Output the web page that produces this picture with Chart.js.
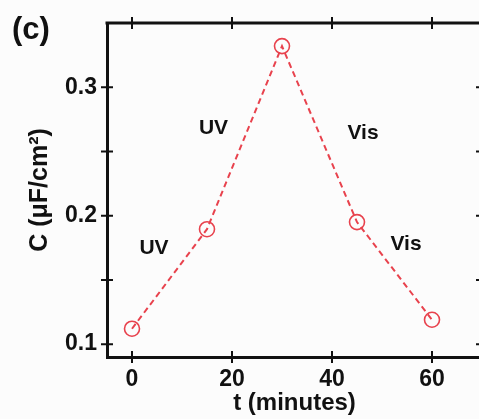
<!DOCTYPE html>
<html>
<head>
<meta charset="utf-8">
<script src="https://cdn.jsdelivr.net/npm/chart.js@4/dist/chart.umd.min.js"></script>
<style>
  html, body { margin: 0; padding: 0; background: #fcfcfc; overflow: hidden; }
  #wrap { width: 479px; height: 419px; overflow: hidden; }
</style>
</head>
<body>
<div id="wrap"><canvas id="capChart" width="490" height="419"></canvas></div>
<script>
// capacitance vs. illumination time
const times = [0, 15, 30, 45, 60];
const capacitance = [0.112, 0.1895, 0.332, 0.195, 0.119];

const xTicks = [0, 20, 40, 60];
const yTicks = [0.1, 0.15, 0.2, 0.25, 0.3];
const yLabelled = [0.1, 0.2, 0.3];

// light-condition notes, placed in data units
const noteText = ['UV', 'UV', 'Vis', 'Vis'];
const noteT = [4.4, 16.3, 46.2, 54.8];
const noteC = [0.1746, 0.268, 0.264, 0.178];

const ink = '#111';
const red = '#e8424d';
const boldFont = size => ({ family: 'Arial, "Liberation Sans", sans-serif', size: size, weight: 'bold' });

// closes the box, draws in/out ticks on all four sides and the text notes
const framePlugin = {
    id: 'frame',
    afterDraw(chart) {
        const { ctx, chartArea: a, scales: { x, y } } = chart;
        ctx.save();
        ctx.strokeStyle = ink;
        ctx.lineWidth = 3;
        ctx.beginPath();
        ctx.moveTo(a.left - 1.5, a.top);
        ctx.lineTo(a.right, a.top);
        ctx.lineTo(a.right, a.bottom);
        ctx.stroke();

        ctx.lineWidth = 2;
        const len = 6;
        ctx.beginPath();
        xTicks.forEach(v => {
            const px = x.getPixelForValue(v);
            ctx.moveTo(px, a.bottom - len); ctx.lineTo(px, a.bottom + len);
            ctx.moveTo(px, a.top - len); ctx.lineTo(px, a.top + len);
        });
        yTicks.forEach(v => {
            const py = y.getPixelForValue(v);
            ctx.moveTo(a.left - len, py); ctx.lineTo(a.left + len, py);
            ctx.moveTo(a.right - len, py); ctx.lineTo(a.right + len, py);
        });
        ctx.stroke();

        ctx.fillStyle = ink;
        ctx.textAlign = 'center';
        ctx.textBaseline = 'middle';
        ctx.font = 'bold 21px Arial, "Liberation Sans", sans-serif';
        noteText.forEach((t, i) => {
            ctx.fillText(t, x.getPixelForValue(noteT[i]), y.getPixelForValue(noteC[i]));
        });

        ctx.textAlign = 'left';
        ctx.font = 'bold 31px Arial, "Liberation Sans", sans-serif';
        ctx.fillText('(c)', 12, 30);
        ctx.restore();
    }
};

new Chart(document.getElementById('capChart').getContext('2d'), {
    type: 'line',
    data: {
        datasets: [{
            data: times.map((t, i) => ({ x: t, y: capacitance[i] })),
            borderColor: red,
            borderWidth: 2,
            borderDash: [6, 4],
            pointRadius: 7.5,
            pointHoverRadius: 7.5,
            pointBorderWidth: 1.6,
            pointBorderColor: red,
            pointBackgroundColor: 'rgba(0,0,0,0)',
            tension: 0
        }]
    },
    options: {
        responsive: false,
        animation: false,
        layout: { autoPadding: false, padding: { top: 23, right: 8, left: 0, bottom: 0 } },
        plugins: { legend: { display: false }, tooltip: { enabled: false } },
        scales: {
            x: {
                type: 'linear',
                min: -5,
                max: 70,
                afterBuildTicks: scale => { scale.ticks = xTicks.map(v => ({ value: v })); },
                afterFit: scale => {
                    scale.height = 62;
                    scale.paddingLeft = 0;
                    scale.paddingRight = 0;
                },
                grid: { display: false, drawTicks: false },
                border: { display: true, width: 3, color: ink },
                ticks: { color: ink, font: boldFont(23), padding: 9, autoSkip: false, maxRotation: 0 },
                title: { display: true, text: 't (minutes)', color: ink, font: boldFont(24), padding: { top: 0, bottom: 1 } }
            },
            y: {
                min: 0.09,
                max: 0.35,
                afterBuildTicks: scale => { scale.ticks = yTicks.map(v => ({ value: v })); },
                afterFit: scale => {
                    scale.width = 107;
                    scale.paddingTop = 0;
                    scale.paddingBottom = 0;
                },
                grid: { display: false, drawTicks: false },
                border: { display: true, width: 3, color: ink },
                ticks: {
                    color: ink,
                    font: boldFont(23),
                    padding: 10,
                    autoSkip: false,
                    callback: v => yLabelled.includes(v) ? v.toFixed(1) : ''
                },
                title: { display: true, text: 'C (\u03bcF/cm\u00b2)', color: ink, font: boldFont(25), padding: { top: 25, bottom: 0 } }
            }
        }
    },
    plugins: [framePlugin]
});
</script>
</body>
</html>
